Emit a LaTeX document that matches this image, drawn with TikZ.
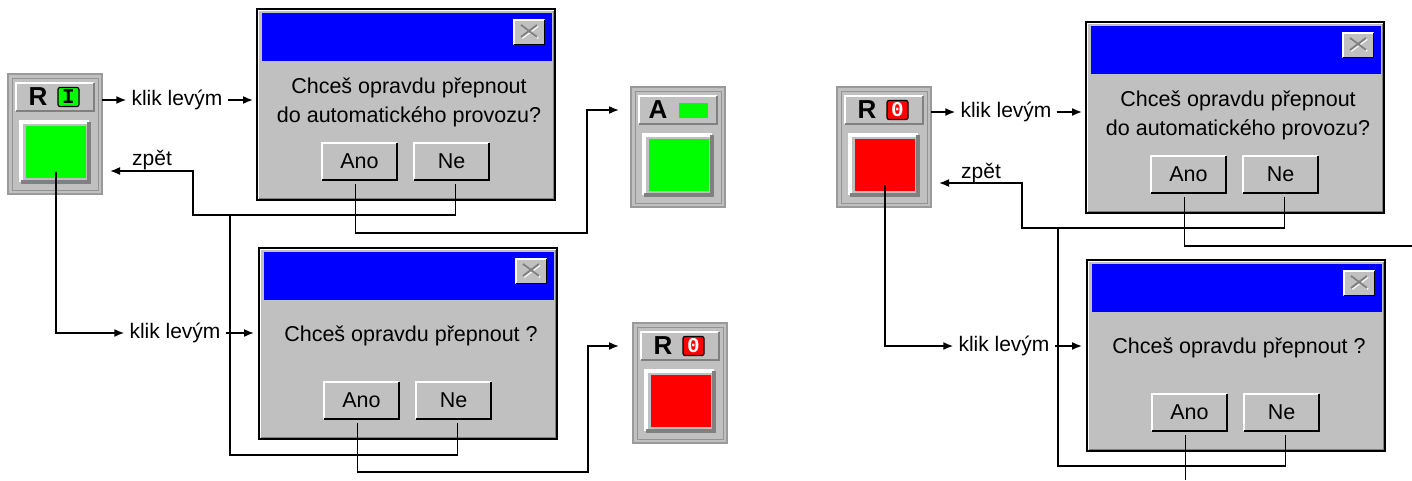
\documentclass[tikz,border=0pt]{standalone}
\usepackage{fontspec}
\setmainfont{Liberation Sans}
\newfontfamily\lampfont{Liberation Mono}
\usetikzlibrary{arrows.meta}

\definecolor{wingray}{HTML}{C0C0C0}
\definecolor{windark}{HTML}{808080}
\definecolor{frameline}{HTML}{9A9A9A}
\definecolor{titleblue}{HTML}{0000FF}
\definecolor{lampgreen}{HTML}{00FF00}
\definecolor{lampred}{HTML}{FF0000}

\tikzset{
  box/.style={anchor=north west, inner sep=0pt, outer sep=0pt},
  conn/.style={line width=1.6pt, black},
  arr/.style={conn, -{Latex[length=10pt,width=8pt]}},
  lbl/.style={font=\fontsize{21}{25}\selectfont, inner xsep=5pt, inner ysep=0pt},
  dlgtext/.style={font=\fontsize{21.5}{29}\selectfont, align=center, inner sep=0pt},
  winbtn/.style={box, minimum width=77pt, minimum height=39pt, fill=wingray,
    font=\fontsize{21.5}{25}\selectfont},
  hdletter/.style={font=\bfseries\fontsize{26}{28}\selectfont, inner sep=0pt},
  lamp/.style={minimum width=21pt, minimum height=19pt, inner sep=0pt,
    draw=black, line width=1.2pt, rounded corners=2pt,
    font=\lampfont\bfseries\fontsize{21}{21}\selectfont},
}

% raised edge: light on top/left, dark on bottom/right
% #1 node, #2 light colour, #3 dark colour, #4 line width, #5 half of it
\newcommand\bevel[5]{%
  \draw[#2, line width=#4] ([shift={(#5,#5)}]#1.south west)
    -- ([shift={(#5,-#5)}]#1.north west) -- ([shift={(-#5,-#5)}]#1.north east);
  \draw[#3, line width=#4] ([shift={(#5,#5)}]#1.south west)
    -- ([shift={(-#5,#5)}]#1.south east) -- ([shift={(-#5,-#5)}]#1.north east);
}

% message box: #1 name, #2 x, #3 y, #4 text offset, #5 message
\newcommand\dialog[5]{%
  \node[box, minimum width=298pt, minimum height=191pt, fill=wingray,
    draw=black, line width=2pt] (#1) at (#2,#3) {};
  \bevel{#1}{white}{windark}{1pt}{1.5pt}
  \node[box, minimum width=290pt, minimum height=48pt, fill=titleblue]
    (#1-bar) at (#2+5,#3+4) {};
  \node[box, minimum width=32pt, minimum height=26pt, fill=wingray]
    (#1-x) at (#2+256,#3+10) {};
  \bevel{#1-x}{white}{black}{1.5pt}{0.75pt}
  \draw[white, line width=2pt]
    ([shift={(-7pt,-6pt)}]#1-x.center) -- ([shift={(9pt,6pt)}]#1-x.center)
    ([shift={(-7pt,6pt)}]#1-x.center) -- ([shift={(9pt,-6pt)}]#1-x.center);
  \draw[windark, line width=2pt]
    ([shift={(-8pt,-5pt)}]#1-x.center) -- ([shift={(8pt,7pt)}]#1-x.center)
    ([shift={(-8pt,7pt)}]#1-x.center) -- ([shift={(8pt,-5pt)}]#1-x.center);
  \node[dlgtext] (#1-msg) at (#2+152,#3+#4) {#5};
  \node[winbtn] (#1-ano) at (#2+64,#3+133) {Ano};
  \bevel{#1-ano}{white}{black}{2pt}{1pt}
  \node[winbtn] (#1-ne) at (#2+156,#3+133) {Ne};
  \bevel{#1-ne}{white}{black}{2pt}{1pt}
  \coordinate (#1-at) at ([shift={(-4pt,-3pt)}]#1-ano.south);
  \coordinate (#1-nt) at ([shift={(4pt,-3pt)}]#1-ne.south);
}

% control panel with mode header and push button: #1 name, #2 x, #3 y, #4 button colour
\newcommand\panel[4]{%
  \node[box, minimum width=94pt, minimum height=120pt, fill=wingray,
    draw=frameline, line width=1.5pt] (#1) at (#2,#3) {};
  \draw[windark!70!wingray, line width=1pt]
    ([shift={(4pt,4pt)}]#1.south west) rectangle ([shift={(-4pt,-4pt)}]#1.north east);
  \node[box, minimum width=80pt, minimum height=30pt, fill=wingray]
    (#1-hd) at (#2+7,#3+8) {};
  \bevel{#1-hd}{white}{windark}{2pt}{1pt}
  \node[box, minimum width=72pt, minimum height=64pt, fill=wingray]
    (#1-btn) at (#2+11,#3+46) {};
  \bevel{#1-btn}{white}{windark}{4pt}{2pt}
  \node[box, minimum width=60pt, minimum height=52pt, fill=#4]
    (#1-face) at (#2+18,#3+52) {};
}

\begin{document}
\begin{tikzpicture}[x=1pt, y=-1pt]
\fill[white] (0,0) rectangle (1412,480);
\useasboundingbox (0,0) rectangle (1412,480);

% ---------- left: switching from manual mode "I" ----------
\panel{w1}{8}{74}{lampgreen}
\node[hdletter] (w1-r) at ([xshift=-17pt]w1-hd.center) {R};
\node[lamp, fill=lampgreen] (w1-lamp) at ([xshift=13.5pt]w1-hd.center) {I};

\dialog{d1}{257}{9}{93}{Chceš opravdu přepnout\\do automatického provozu?}
\dialog{d2}{259}{248}{88}{Chceš opravdu přepnout ?}

\panel{wa}{631}{87}{lampgreen}
\node[hdletter] (wa-r) at ([xshift=-20pt]wa-hd.center) {A};
\node[inner sep=0pt, minimum width=29pt, minimum height=15pt, fill=lampgreen]
  (wa-lamp) at ([xshift=15pt]wa-hd.center) {};

\panel{wr}{633}{323}{lampred}
\node[hdletter] (wr-r) at ([xshift=-17pt]wr-hd.center) {R};
\node[lamp, fill=lampred, text=white] (wr-lamp) at ([xshift=13.5pt]wr-hd.center) {0};

\node[lbl] (k1) at (177,100) {klik levým};
\node[lbl] (k2) at (175,333) {klik levým};
\node[lbl, anchor=base] (z1) at (152,165) {zpět};

\coordinate (j1) at (193,215);
\coordinate (j2) at (230,215);
\coordinate (zb1) at (193,171);
\coordinate (b2) at (230,455);
\coordinate (a1) at (587,233);
\coordinate (a2) at (588,472);

\draw[arr] (k1.west -| w1.east) -- (k1.west);
\draw[arr, shorten >=4pt] (k1.east) -- (k1.east -| d1.west);
\draw[arr, shorten >=8pt] (d1-nt) |- (j1) -- (zb1) -- (zb1 -| w1.east);
\draw[conn] (j2) -- (b2) -| (d2-nt);
\draw[arr, shorten >=12pt] (d1-at) |- (a1) |- (wa-hd.west -| wa.west);
\draw[arr] ([yshift=6pt]w1-face.south) |- (k2.west);
\draw[arr, shorten >=5pt] (k2.east) -- (k2.east -| d2.west);
\draw[arr, shorten >=14pt] (d2-at) |- (a2) |- (wr-hd.west -| wr.west);

% ---------- right: switching from manual mode "0" ----------
\panel{w3}{837}{87}{lampred}
\node[hdletter] (w3-r) at ([xshift=-17pt]w3-hd.center) {R};
\node[lamp, fill=lampred, text=white] (w3-lamp) at ([xshift=13.5pt]w3-hd.center) {0};

\dialog{d3}{1086}{22}{93}{Chceš opravdu přepnout\\do automatického provozu?}
\dialog{d4}{1087}{260}{88}{Chceš opravdu přepnout ?}

\node[lbl] (k3) at (1006,112) {klik levým};
\node[lbl] (k4) at (1004,346) {klik levým};
\node[lbl, anchor=base] (z2) at (981,178) {zpět};

\coordinate (j3) at (1022,228);
\coordinate (j4) at (1058,228);
\coordinate (zb2) at (1022,183);
\coordinate (b4) at (1058,466);
\coordinate (e3) at (1412,246);
\coordinate (e4) at (0,480);

\draw[arr] (k3.west -| w3.east) -- (k3.west);
\draw[arr, shorten >=4pt] (k3.east) -- (k3.east -| d3.west);
\draw[arr, shorten >=8pt] (d3-nt) |- (j3) -- (zb2) -- (zb2 -| w3.east);
\draw[conn] (j4) -- (b4) -| (d4-nt);
\draw[conn] (d3-at) |- (e3);
\draw[arr] ([yshift=6pt]w3-face.south) |- (k4.west);
\draw[arr, shorten >=5pt] (k4.east) -- (k4.east -| d4.west);
\draw[conn] (d4-at) -- (d4-at |- e4);
\end{tikzpicture}
\end{document}
